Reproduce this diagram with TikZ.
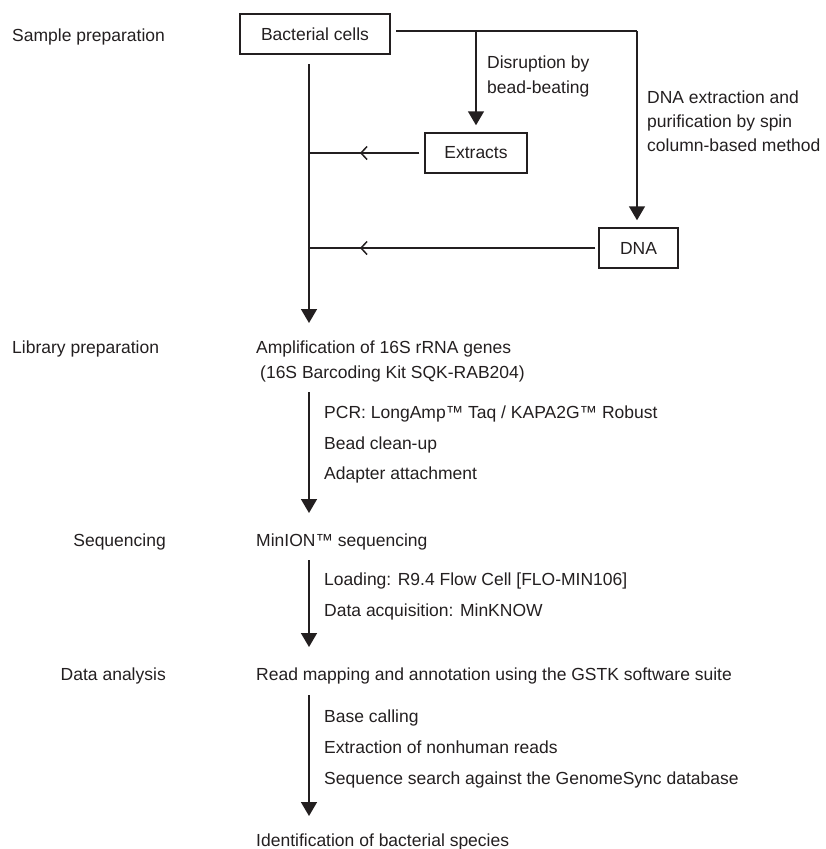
\documentclass[tikz,border=0pt]{standalone}
\usepackage{fontspec}
\setmainfont{Liberation Sans}
\usetikzlibrary{arrows.meta,decorations.markings}
\definecolor{ink}{RGB}{35,31,32}
\begin{document}
\begin{tikzpicture}[x=1pt,y=-1pt,
  font=\fontsize{17.5}{21}\selectfont,
  every node/.style={text=ink},
  box/.style={draw=ink, line width=1.5pt, minimum height=40pt, inner sep=0pt},
  lbl/.style={anchor=base west, inner sep=0pt},
  rlbl/.style={anchor=base east, inner sep=0pt},
  conn/.style={draw=ink, line width=1.6pt},
  bigarrow/.style={conn, -{Triangle[width=16pt,length=14pt]}},
  chev/.style={conn, postaction={decorate}, decoration={markings,
     mark=at position -51pt with {\arrow[line width=1.5pt]{Straight Barb[length=6pt,width=13pt]}}}}
]
\useasboundingbox (0,0) rectangle (826,849);

% boxes
\node[box, minimum width=150pt] (bc) at (315,34) {Bacterial cells};
\node[box, minimum width=102pt] (ex) at (476,153) {Extracts};
\node[box, minimum width=79pt] (dna) at (638.5,248) {DNA};

% stage labels
\node[lbl] (lsample) at (12,41) {Sample preparation};
\node[lbl] (llib) at (12,353) {Library preparation};
\node[rlbl] (lseq) at (166,546) {Sequencing};
\node[rlbl] (ldata) at (166,680) {Data analysis};

% branch labels
\node[lbl] (disr1) at (487,68) {Disruption by};
\node[lbl] (disr2) at (487,93) {bead-beating};
\node[lbl] (dnax1) at (647,103) {DNA extraction and};
\node[lbl] (dnax2) at (647,127) {purification by spin};
\node[lbl] (dnax3) at (647,151) {column-based method};

% main text
\node[lbl] (amp) at (256,353) {Amplification of 16S rRNA genes};
\node[lbl] (kit) at (260,378) {(16S Barcoding Kit SQK-RAB204)};
\node[lbl] (pcr) at (324,418) {PCR: LongAmp™ Taq / KAPA2G™ Robust};
\node[lbl] (bead) at (324,449) {Bead clean-up};
\node[lbl] (adap) at (324,479) {Adapter attachment};
\node[lbl] (minion) at (256,546) {MinION™ sequencing};
\node[lbl] (load) at (324,585) {Loading: R9.4 Flow Cell [FLO-MIN106]};
\node[lbl] (acq) at (324,616) {Data acquisition: MinKNOW};
\node[lbl] (read) at (256,680) {Read mapping and annotation using the GSTK software suite};
\node[lbl] (base) at (324,722) {Base calling};
\node[lbl] (nonh) at (324,753) {Extraction of nonhuman reads};
\node[lbl] (srch) at (324,784) {Sequence search against the GenomeSync database};
\node[lbl] (ident) at (256,846) {Identification of bacterial species};

% coordinates
\coordinate (s0) at (396,31);
\coordinate (j1) at (476,31);
\coordinate (j2) at (637,31);
\coordinate (m0) at (309,64);
\coordinate (m1) at (309,323);
\coordinate (a0) at (309,392);
\coordinate (a1) at (309,513);
\coordinate (b0) at (309,560);
\coordinate (b1) at (309,647);
\coordinate (c0) at (309,695);
\coordinate (c1) at (309,816);

% connectors
\draw[conn] (s0) -- (j2);
\draw[bigarrow, shorten >=7pt] (j1) -- (ex.north);
\draw[bigarrow, shorten >=7pt] (j2) -- (j2 |- dna.north);
\draw[bigarrow] (m0) -- (m1);
\draw[chev, shorten <=5pt] (ex.west) -- (ex.west -| m0);
\draw[chev, shorten <=3pt] (dna.west) -- (dna.west -| m0);
\draw[bigarrow] (a0) -- (a1);
\draw[bigarrow] (b0) -- (b1);
\draw[bigarrow] (c0) -- (c1);
\end{tikzpicture}
\end{document}
